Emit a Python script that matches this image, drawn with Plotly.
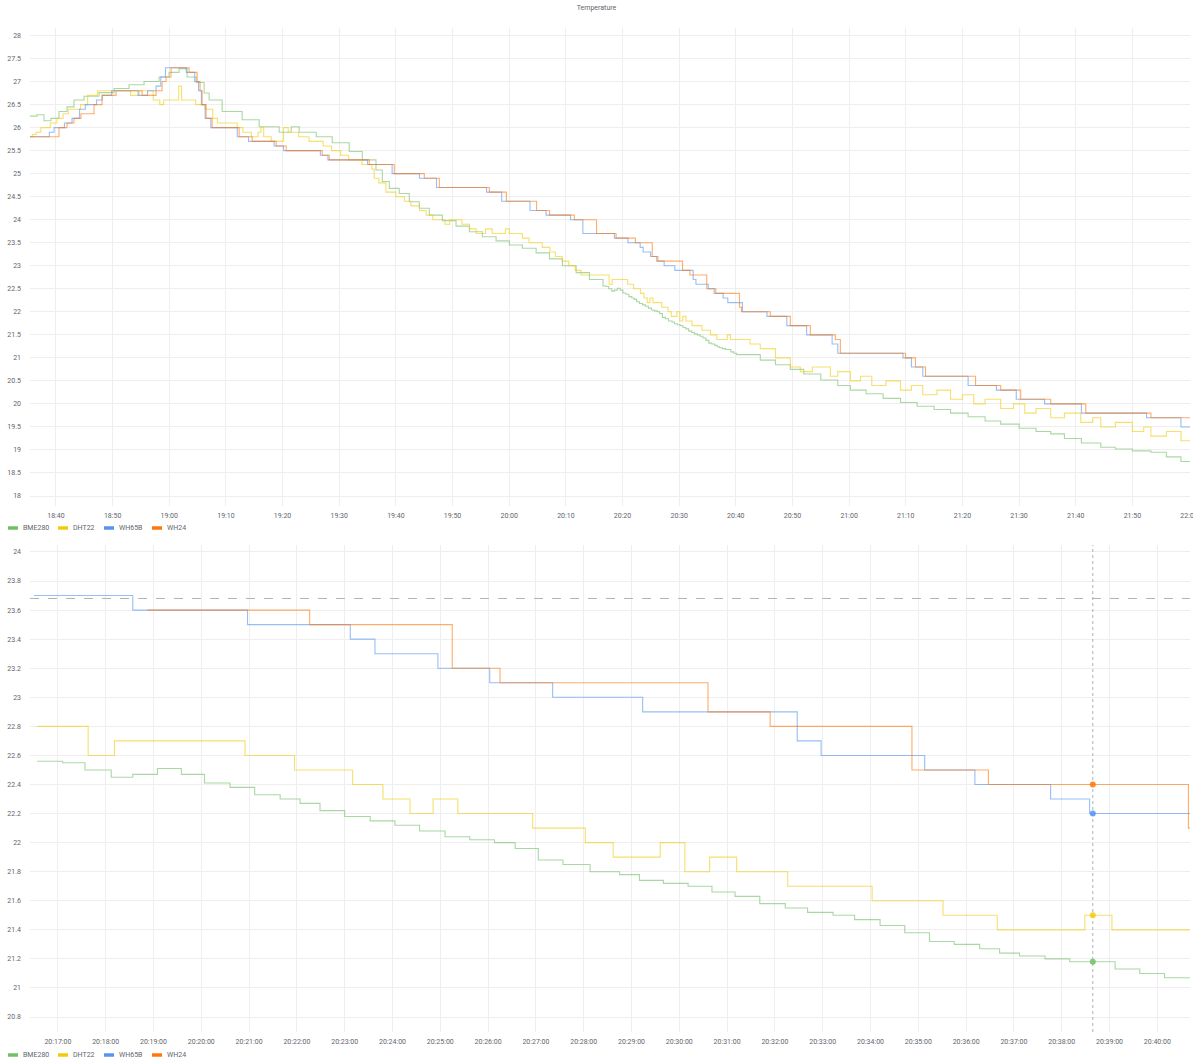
import plotly.graph_objects as go

DAY = "2021-06-20 "
W, H = 1193, 1061

names = ["BME280", "DHT22", "WH65B", "WH24"]
colors = ["#73BF69", "#F2CC0C", "#5794F2", "#FF780A"]

# ---- BME280 (change points) ----
bme280_t = ["18:35:25", "18:36:38", "18:37:53", "18:39:07", "18:40:32", "18:41:57", "18:43:11", "18:44:57",
            "18:47:36", "18:50:15", "18:52:54", "18:55:33", "18:58:12", "18:59:58", "19:01:44", "19:03:09",
            "19:04:44", "19:06:09", "19:07:02", "19:09:20", "19:12:52", "19:15:52", "19:19:24", "19:21:31",
            "19:22:56", "19:25:56", "19:28:46", "19:31:46", "19:34:04", "19:36:29", "19:37:36", "19:38:50",
            "19:40:36", "19:42:22", "19:44:08", "19:45:54", "19:48:12", "19:50:37", "19:52:58", "19:55:16",
            "19:57:41", "20:00:02", "20:02:20", "20:04:45", "20:07:06", "20:09:24", "20:11:49", "20:14:10",
            "20:16:34", "20:17:06", "20:17:34", "20:18:07", "20:18:34", "20:19:05", "20:19:35", "20:20:04",
            "20:20:36", "20:21:07", "20:21:39", "20:22:04", "20:22:29", "20:23:00", "20:23:32", "20:24:03",
            "20:24:34", "20:25:06", "20:25:37", "20:26:08", "20:26:34", "20:27:03", "20:27:34", "20:28:08",
            "20:28:45", "20:29:10", "20:29:40", "20:30:11", "20:30:41", "20:31:10", "20:31:41", "20:32:13",
            "20:32:41", "20:33:13", "20:33:40", "20:34:12", "20:34:43", "20:35:14", "20:35:45", "20:36:17",
            "20:36:42", "20:37:07", "20:37:39", "20:38:10", "20:39:07", "20:39:38", "20:40:09",
            "20:44:19", "20:47:00", "20:49:37", "20:52:00", "20:55:00", "20:58:00", "21:00:13", "21:03:00",
            "21:06:00", "21:09:04", "21:12:00", "21:15:00", "21:17:54", "21:21:00", "21:24:00", "21:26:45",
            "21:30:00", "21:33:00", "21:35:35", "21:38:00", "21:41:00", "21:44:25", "21:47:00", "21:50:00",
            "21:53:16", "21:56:00", "21:58:34"]
bme280_v = [26.25, 26.28, 26.15, 26.2, 26.35, 26.45, 26.6, 26.68,
            26.76, 26.85, 26.93, 27.0, 27.1, 27.2, 27.28, 27.1,
            26.98, 26.75, 26.6, 26.35, 26.17, 26.02, 25.9, 26.02,
            25.9, 25.8, 25.67, 25.48, 25.3, 25.08, 24.83, 24.68,
            24.57, 24.39, 24.25, 24.1, 23.98, 23.86, 23.74, 23.63,
            23.54, 23.45, 23.38, 23.28, 23.15, 23.0, 22.85, 22.7,
            22.56, 22.55, 22.50, 22.45, 22.47, 22.51, 22.47, 22.41,
            22.38, 22.33, 22.30, 22.27, 22.22, 22.18, 22.15, 22.12,
            22.08, 22.04, 22.02, 22.00, 21.96, 21.88, 21.85, 21.80,
            21.78, 21.74, 21.72, 21.70, 21.66, 21.63, 21.58, 21.55,
            21.52, 21.50, 21.47, 21.43, 21.38, 21.32, 21.30, 21.27,
            21.24, 21.22, 21.20, 21.18, 21.13, 21.10, 21.07,
            20.95, 20.85, 20.75, 20.65, 20.52, 20.4, 20.3, 20.22,
            20.12, 20.03, 19.95, 19.88, 19.8, 19.72, 19.63, 19.56,
            19.47, 19.4, 19.35, 19.25, 19.15, 19.06, 19.02, 18.98,
            18.95, 18.85, 18.75]

# ---- DHT22 ----
dht22_t = ["18:35:25", "18:35:50", "18:36:30", "18:37:20", "18:39:00", "18:40:10", "18:41:15", "18:42:10",
           "18:44:20", "18:45:35", "18:47:20", "18:53:10", "18:54:40", "18:57:10", "18:58:20", "18:59:00",
           "19:01:40", "19:02:10", "19:04:40", "19:06:20", "19:07:40", "19:08:30", "19:12:00", "19:13:00",
           "19:14:30", "19:15:40", "19:16:10", "19:16:40", "19:18:00", "19:20:10", "19:21:00", "19:22:50",
           "19:24:40", "19:27:10", "19:28:40", "19:30:15", "19:31:40", "19:34:00", "19:35:45", "19:36:10",
           "19:37:00", "19:38:15", "19:40:00", "19:41:30", "19:42:40", "19:44:10", "19:45:20", "19:46:30",
           "19:48:40", "19:49:30", "19:51:40", "19:53:00", "19:54:10", "19:55:50", "19:57:00", "19:59:20",
           "20:00:00", "20:02:20", "20:03:30", "20:05:50", "20:07:10", "20:08:10", "20:09:20", "20:10:30",
           "20:11:40", "20:12:40",
           "20:17:38", "20:18:11", "20:20:55", "20:21:57", "20:23:10", "20:23:48", "20:24:22", "20:24:51",
           "20:25:22", "20:26:56", "20:28:02", "20:28:37", "20:29:36", "20:30:07", "20:30:38", "20:31:12",
           "20:32:16", "20:34:02", "20:35:31", "20:36:39", "20:38:29", "20:39:03",
           "20:42:30", "20:44:19", "20:47:00", "20:49:37", "20:51:23", "20:53:30", "20:56:41", "20:58:00",
           "21:00:13", "21:02:00", "21:04:00", "21:06:30", "21:09:04", "21:11:00", "21:13:00", "21:15:30",
           "21:17:54", "21:20:00", "21:22:00", "21:24:00", "21:26:45", "21:29:00", "21:31:00", "21:33:00",
           "21:35:35", "21:38:00", "21:40:53", "21:43:00", "21:44:25", "21:47:00", "21:50:00", "21:52:00",
           "21:53:16", "21:56:00", "21:58:34"]
dht22_v = [25.8, 25.85, 25.9, 26.0, 26.1, 26.2, 26.3, 26.4,
           26.5, 26.7, 26.8, 26.7, 26.8, 26.6, 26.5, 26.6,
           26.9, 26.6, 26.5, 26.4, 26.2, 26.1, 26.0, 25.9,
           25.8, 25.9, 26.0, 25.8, 25.7, 26.0, 25.9, 25.8,
           25.7, 25.6, 25.5, 25.4, 25.3, 25.2, 25.1, 24.9,
           24.8, 24.6, 24.5, 24.4, 24.3, 24.2, 24.1, 24.0,
           23.9, 24.0, 23.9, 23.8, 23.7, 23.8, 23.7, 23.8,
           23.7, 23.6, 23.5, 23.4, 23.3, 23.2, 23.1, 23.0,
           22.9, 22.8,
           22.6, 22.7, 22.6, 22.5, 22.4, 22.3, 22.2, 22.3,
           22.2, 22.1, 22.0, 21.9, 22.0, 21.8, 21.9, 21.8,
           21.7, 21.6, 21.5, 21.4, 21.5, 21.4,
           21.3, 21.2, 21.0, 20.8, 20.7, 20.8, 20.6, 20.7,
           20.5, 20.6, 20.4, 20.5, 20.3, 20.4, 20.2, 20.3,
           20.1, 20.2, 20.0, 20.1, 19.9, 20.0, 19.8, 19.9,
           19.7, 19.8, 19.6, 19.7, 19.5, 19.6, 19.4, 19.5,
           19.3, 19.4, 19.2]

# ---- WH65B ----
wh65b_t = ["18:35:25", "18:38:50", "18:39:40", "18:41:30", "18:42:50", "18:44:10", "18:45:10", "18:47:10",
           "18:48:10", "18:49:50", "18:54:30", "18:56:10", "18:57:40", "18:58:30", "18:59:20", "19:03:00",
           "19:04:30", "19:05:10", "19:05:40", "19:06:20", "19:07:20", "19:12:00", "19:14:00", "19:18:30",
           "19:20:10", "19:26:40", "19:28:00", "19:35:00", "19:39:20", "19:44:10", "19:47:10", "19:56:00",
           "19:58:40", "20:03:40", "20:06:30", "20:10:50", "20:13:00",
           "20:18:34", "20:20:58", "20:23:07", "20:23:38", "20:24:57", "20:26:02", "20:27:21", "20:29:14",
           "20:32:28", "20:32:58", "20:35:08", "20:36:11", "20:37:46", "20:38:35",
           "20:41:10", "20:45:30", "20:49:00", "20:52:30", "20:57:00", "20:58:00", "21:09:30", "21:11:00",
           "21:13:00", "21:21:00", "21:26:00", "21:29:30", "21:34:30", "21:41:00", "21:52:30", "21:58:34"]
wh65b_v = [25.8, 25.9, 26.0, 26.1, 26.2, 26.4, 26.5, 26.6,
           26.7, 26.8, 26.7, 26.8, 26.9, 27.1, 27.3, 27.2,
           27.0, 26.8, 26.5, 26.2, 26.0, 25.8, 25.7, 25.6,
           25.5, 25.4, 25.3, 25.2, 25.0, 24.9, 24.7, 24.6,
           24.4, 24.2, 24.1, 24.0, 23.7,
           23.6, 23.5, 23.4, 23.3, 23.2, 23.1, 23.0, 22.9,
           22.7, 22.6, 22.5, 22.4, 22.3, 22.2,
           22.0, 21.9, 21.7, 21.5, 21.3, 21.1, 21.0, 20.8,
           20.6, 20.4, 20.3, 20.1, 20.0, 19.8, 19.7, 19.5]

# ---- WH24 ----
wh24_t = ["18:35:25", "18:40:32", "18:41:57", "18:43:11", "18:44:25", "18:46:43", "18:48:08", "18:50:36",
          "18:55:12", "18:57:40", "18:58:44", "18:59:26", "19:00:19", "19:03:30", "19:04:55", "19:05:26",
          "19:05:48", "19:06:30", "19:07:34", "19:12:20", "19:14:38", "19:18:52", "19:20:38", "19:27:00",
          "19:28:14", "19:35:18", "19:39:43", "19:45:01", "19:47:40", "19:56:30", "19:59:30", "20:04:50",
          "20:07:07", "20:11:30", "20:15:25",
          "20:18:52", "20:22:16", "20:25:15", "20:26:15", "20:30:36", "20:31:54", "20:34:52", "20:36:28",
          "20:40:39", "20:41:00",
          "20:46:05", "20:49:37", "20:53:09", "20:57:34", "20:58:27", "21:09:57", "21:11:43", "21:13:29",
          "21:22:19", "21:26:45", "21:30:17", "21:35:35", "21:41:46", "21:53:16"]
wh24_v = [25.8, 26.0, 26.1, 26.2, 26.3, 26.5, 26.7, 26.8,
          26.7, 26.8, 27.0, 27.1, 27.3, 27.2, 27.0, 26.8,
          26.5, 26.2, 26.0, 25.8, 25.7, 25.6, 25.5, 25.4,
          25.3, 25.2, 25.0, 24.9, 24.7, 24.6, 24.4, 24.2,
          24.1, 24.0, 23.7,
          23.6, 23.5, 23.2, 23.1, 22.9, 22.8, 22.5, 22.4,
          22.1, 22.0,
          21.9, 21.7, 21.5, 21.4, 21.1, 21.0, 20.8, 20.6,
          20.4, 20.3, 20.1, 20.0, 19.8, 19.7]

series_t = [bme280_t, dht22_t, wh65b_t, wh24_t]
series_v = [bme280_v, dht22_v, wh65b_v, wh24_v]

# time windows
top_range = ["18:35:25", "22:00:10"]
bottom_range = ["20:16:25", "20:40:41"]
bottom_first = ["20:16:34", "20:16:34", "20:16:30", "20:18:52"]  # first sample in zoomed query
cursor_time = "20:38:39"
cursor_value = 23.68

top_yticks = [18 + 0.5 * i for i in range(21)]
bottom_yticks = [round(20.8 + 0.2 * i, 1) for i in range(17)]


def value_at(ts, vs, t):
    v = vs[0]
    for tt, vv in zip(ts, vs):
        if tt <= t:
            v = vv
    return v


def window(ts, vs, start, end):
    xs = [DAY + start]
    ys = [value_at(ts, vs, start)]
    for tt, vv in zip(ts, vs):
        if start < tt < end:
            xs.append(DAY + tt)
            ys.append(vv)
    xs.append(DAY + end)
    ys.append(ys[-1])
    return xs, ys


fig = go.Figure()
for i in range(4):
    xs, ys = window(series_t[i], series_v[i], series_t[i][0], top_range[1])
    fig.add_trace(go.Scatter(x=xs, y=ys, mode="lines", line=dict(color=colors[i], width=1.1, shape="hv"),
                             opacity=0.6, showlegend=False, xaxis="x", yaxis="y", hoverinfo="skip"))
for i in range(4):
    xs, ys = window(series_t[i], series_v[i], bottom_first[i], "20:40:41")
    fig.add_trace(go.Scatter(x=xs, y=ys, mode="lines", line=dict(color=colors[i], width=1.1, shape="hv"),
                             opacity=0.6, showlegend=False, xaxis="x2", yaxis="y2", hoverinfo="skip"))

# crosshair
fig.add_trace(go.Scatter(x=[DAY + cursor_time] * 2, y=[20.697, 24.048], mode="lines",
                         line=dict(color="#a9b4bd", width=1, dash="dot"), showlegend=False,
                         xaxis="x2", yaxis="y2", hoverinfo="skip"))
fig.add_trace(go.Scatter(x=[DAY + bottom_range[0], DAY + "20:40:41"], y=[cursor_value] * 2, mode="lines",
                         line=dict(color="#a9b4bd", width=1, dash="dash"), showlegend=False,
                         xaxis="x2", yaxis="y2", hoverinfo="skip"))
for i in range(4):
    fig.add_trace(go.Scatter(x=[DAY + cursor_time], y=[value_at(series_t[i], series_v[i], cursor_time)],
                             mode="markers", marker=dict(color=colors[i], size=6, opacity=0.85),
                             showlegend=False, xaxis="x2", yaxis="y2", hoverinfo="skip"))

font = dict(family="Roboto, Inter, sans-serif", size=7, color="#5f656b")
grid = "#eeeeee"
x0, x1 = 30 / W, 1190 / W

# legends drawn as colored dashes + text (Grafana style)
legend_rows = [528, 1055]
legend_sym_x = [8, 58, 104, 152]
shapes, annotations = [], []
for row in legend_rows:
    yp = 1 - row / H
    for i in range(4):
        sx = legend_sym_x[i]
        shapes.append(dict(type="line", xref="paper", yref="paper", x0=sx / W, x1=(sx + 10) / W,
                           y0=yp, y1=yp, line=dict(color=colors[i], width=3.5)))
        annotations.append(dict(text=names[i], xref="paper", yref="paper", x=(sx + 13) / W, y=yp,
                                xanchor="left", yanchor="middle", showarrow=False, font=font))

fig.update_layout(
    width=W, height=H, margin=dict(l=0, r=0, t=0, b=0),
    paper_bgcolor="white", plot_bgcolor="white", font=font, showlegend=False,
    title=dict(text="Temperature", x=0.5, xanchor="center", y=1 - 8 / H, yanchor="middle",
               font=dict(size=7, color="#5f656b")),
    shapes=shapes, annotations=annotations,
    xaxis=dict(domain=[x0, x1], anchor="y", type="date", range=[DAY + t for t in top_range],
               tick0=DAY + "18:40:00", dtick=600000, tickformat="%H:%M", showgrid=True, gridcolor=grid,
               zeroline=False, showline=False, ticks="", automargin=False, ticklabelstandoff=4,
               ticklabeloverflow="allow"),
    yaxis=dict(domain=[1 - 506 / H, 1 - 28 / H], anchor="x", range=[17.783, 28.163],
               tickvals=top_yticks, showgrid=True, gridcolor=grid, zeroline=False, ticks="",
               automargin=False, ticklabelstandoff=8),
    xaxis2=dict(domain=[x0, x1], anchor="y2", type="date", range=[DAY + t for t in bottom_range],
                tick0=DAY + "20:17:00", dtick=60000, tickformat="%H:%M:%S", showgrid=True, gridcolor=grid,
                zeroline=False, showline=False, ticks="", automargin=False, ticklabelstandoff=4,
                ticklabeloverflow="allow"),
    yaxis2=dict(domain=[1 - 1032 / H, 1 - 545 / H], anchor="x2", range=[20.697, 24.048],
                tickvals=bottom_yticks, showgrid=True, gridcolor=grid, zeroline=False, ticks="",
                automargin=False, ticklabelstandoff=8),
)

fig.write_html("out.html", config={"displayModeBar": False},
               post_script="document.body.style.margin='0';document.body.style.overflow='hidden';")
